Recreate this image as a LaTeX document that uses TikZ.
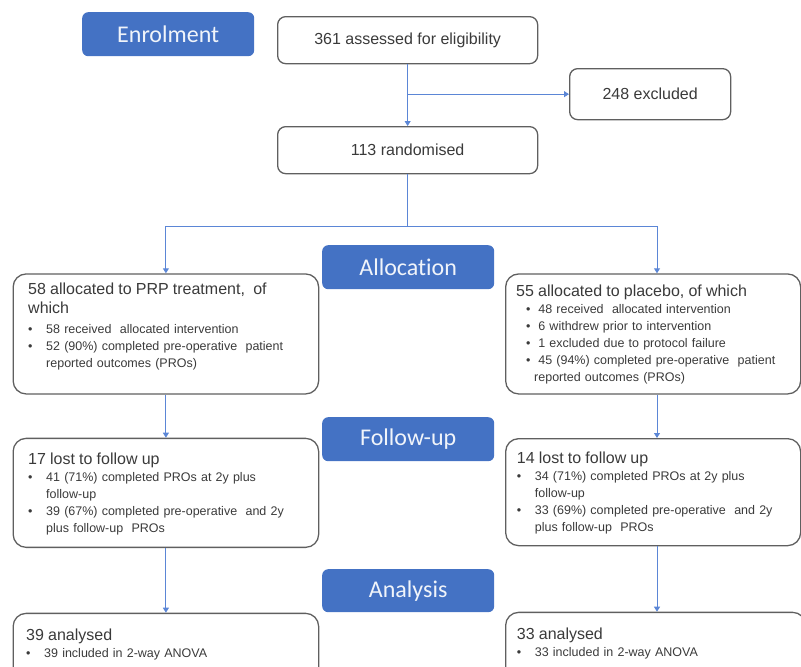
\documentclass[tikz,border=0pt]{standalone}
\usepackage{fontspec}
\setmainfont{Liberation Sans}
\newfontfamily\stagefont[Ligatures=NoCommon]{Carlito}
\usetikzlibrary{positioning,calc,arrows.meta}
\definecolor{stage_blue}{HTML}{4472C4}
\definecolor{line_blue}{HTML}{5B86D6}
\definecolor{box_grey}{HTML}{5F5F5F}
\definecolor{text_grey}{HTML}{3A3A3A}
\newcommand{\boxtitle}{\fontsize{16}{19.5}\selectfont}
\newcommand{\bitem}[1][0pt]{\makebox[18pt][l]{\hspace*{#1}\textbullet}}
\newcommand{\bcont}{\hspace*{18pt}}
\tikzset{STAGE/.style={rectangle,rounded corners=6pt,fill=stage_blue,text=white!92!stage_blue,font=\stagefont\fontsize{24}{28}\selectfont,minimum width=172pt,minimum height=44pt,anchor=north west,inner sep=0pt}}
\tikzset{SMALLBOX/.style={rectangle,rounded corners=8pt,draw=box_grey,line width=1.3pt,text=text_grey,font=\fontsize{16}{19}\selectfont,minimum width=260pt,minimum height=47pt,anchor=north west}}
\tikzset{BIGBOX/.style={rectangle,rounded corners=13pt,draw=box_grey,line width=1.3pt,anchor=north west,inner sep=0pt}}
\tikzset{BOXTEXT/.style={anchor=base west,align=left,text width=280pt,inner sep=0pt,text=text_grey,font=\fontsize{12.5}{17}\selectfont}}
\tikzset{LINE/.style={draw=line_blue,line width=0.9pt}}
\tikzset{ARROW/.style={LINE,-{Triangle[width=6pt,length=5pt]}}}

\begin{document}
\begin{tikzpicture}[x=1pt,y=-1pt]
\useasboundingbox (0,0) rectangle (801,667);
\clip (0,0) rectangle (801,667);

% enrolment
\node[STAGE] (n_enrol) at (82,12) {Enrolment};
\node[SMALLBOX] (n_assess) at (277,16) {361 assessed for eligibility};
\node[SMALLBOX, minimum width=161pt, minimum height=51pt] (n_excl) at (569,68) {248 excluded};
\node[SMALLBOX] (n_random) at (277,126) {113 randomised};

% allocation
\node[STAGE] (n_alloc) at (322,245) {Allocation};
\node[BIGBOX, minimum width=305.5pt, minimum height=120pt] (n_prp) at (12.5,273.3) {};
\node[BIGBOX, minimum width=295pt, minimum height=120pt] (n_plac) at (505,273.3) {};

\node[BOXTEXT] (t_prp) at (28,294) {{\boxtitle 58 allocated to PRP treatment,\ \ of\\ which\par}\vspace{3pt}
    \bitem 58 received\ \ allocated intervention\\
    \bitem 52 (90\%) completed pre-operative\ \ patient\\
    \bcont reported outcomes (PROs)
};
\node[BOXTEXT] (t_plac) at (516,296) {{\boxtitle 55 allocated to placebo, of which\par}
    \bitem[10pt] 48 received\ \ allocated intervention\\
    \bitem[10pt] 6 withdrew prior to intervention\\
    \bitem[10pt] 1 excluded due to protocol failure\\
    \bitem[10pt] 45 (94\%) completed pre-operative\ \ patient\\
    \bcont reported outcomes (PROs)
};

% follow-up
\node[STAGE] (n_fu) at (322,417) {Follow-up};
\node[BIGBOX, minimum width=305.5pt, minimum height=109pt] (n_prp_fu) at (12.5,437.7) {};
\node[BIGBOX, minimum width=295pt, minimum height=107pt] (n_plac_fu) at (505,438) {};

\node[BOXTEXT] (t_prp_fu) at (28,464.3) {{\boxtitle 17 lost to follow up\par}
    \bitem 41 (71\%) completed PROs at 2y plus\\
    \bcont follow-up\\
    \bitem 39 (67\%) completed pre-operative\ \ and 2y\\
    \bcont plus follow-up\ \ PROs
};
\node[BOXTEXT] (t_plac_fu) at (516.7,463.3) {{\boxtitle 14 lost to follow up\par}
    \bitem 34 (71\%) completed PROs at 2y plus\\
    \bcont follow-up\\
    \bitem 33 (69\%) completed pre-operative\ \ and 2y\\
    \bcont plus follow-up\ \ PROs
};

% analysis
\node[STAGE, minimum height=43pt] (n_ana) at (322,569) {Analysis};
\node[BIGBOX, minimum width=305.5pt, minimum height=80pt] (n_prp_ana) at (12.5,612.7) {};
\node[BIGBOX, minimum width=300pt, minimum height=80pt] (n_plac_ana) at (505,611.7) {};

\node[BOXTEXT] (t_prp_ana) at (26,640) {{\boxtitle 39 analysed\par}
    \bitem 39 included in 2-way ANOVA
};
\node[BOXTEXT] (t_plac_ana) at (516.7,639.3) {{\boxtitle 33 analysed\par}
    \bitem 33 included in 2-way ANOVA
};

% connectors
\coordinate (c_split) at ($(n_random.south)+(0,52)$);
\coordinate (c_plac_in) at ($(n_plac.north west)+(152,0)$);

\draw[ARROW] (n_assess.south) -- (n_random.north);
\draw[ARROW] (n_assess.south |- n_excl.west) -- (n_excl.west);
\draw[LINE] (n_random.south) -- (c_split);
\draw[ARROW] (c_split) -| (n_prp.north);
\draw[ARROW] (c_split) -| (c_plac_in);
\draw[ARROW] (n_prp.south) -- (n_prp_fu.north);
\draw[ARROW] (c_plac_in |- n_plac.south) -- (c_plac_in |- n_plac_fu.north);
\draw[ARROW] (n_prp_fu.south) -- (n_prp_ana.north);
\draw[ARROW] (c_plac_in |- n_plac_fu.south) -- (c_plac_in |- n_plac_ana.north);

\end{tikzpicture}
\end{document}
